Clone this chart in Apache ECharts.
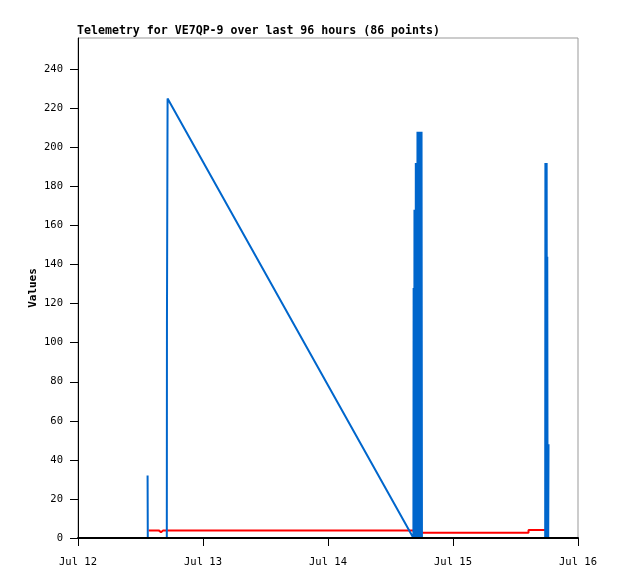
<!DOCTYPE html>
<html>
<head>
<meta charset="utf-8">
<script src="https://cdn.jsdelivr.net/npm/echarts@6/dist/echarts.min.js"></script>
<style>html,body{margin:0;padding:0;background:#fff}#c{width:618px;height:579px}</style>
</head>
<body>
<div id="c"></div>
<script>
// Hours since Jul 12 00:00
const xTickLabels = ['Jul 12', 'Jul 13', 'Jul 14', 'Jul 15', 'Jul 16'];
const yTicks = [0, 20, 40, 60, 80, 100, 120, 140, 160, 180, 200, 220, 240];

const blueHours = [13.36, 13.40, 17.05, 17.08, 17.20,
  64.40, 64.44, 64.48, 64.52, 64.56, 64.60, 64.64, 64.68, 64.72, 64.76, 64.80,
  64.86, 64.90, 64.95, 65.00, 65.05, 65.10, 65.18, 65.25, 65.32, 65.40, 65.48,
  65.56, 65.64, 65.72, 65.80, 65.88, 65.96, 66.04,
  89.70, 89.74, 89.80, 89.86, 89.92, 89.98, 90.04, 90.10, 90.16, 90.22, 90.28, 90.34];
const blueValues = [32, 0, 0, 112, 225,
  0, 128, 0, 128, 0, 168, 0, 168, 0, 168, 0,
  192, 0, 192, 0, 192, 0, 208, 0, 208, 0, 208,
  0, 208, 0, 208, 0, 208, 0,
  0, 192, 0, 192, 0, 192, 0, 144, 0, 48, 0, 48];

const redHours = [13.55, 15.50, 15.94, 16.35, 65.60, 65.60, 86.50, 86.50, 90.43];
const redValues = [3.9, 3.9, 2.9, 3.9, 3.9, 2.7, 2.7, 4.1, 4.1];

const zip = (a, b) => a.map((v, i) => [v, b[i]]);
const mono = '"DejaVu Sans Mono", "Liberation Mono", monospace';

const chart = echarts.init(document.getElementById('c'), null, {renderer: 'canvas'});
chart.setOption({
  animation: false,
  backgroundColor: '#fff',
  title: {
    text: 'Telemetry for VE7QP-9 over last 96 hours (86 points)',
    left: 77, top: 25, padding: 0,
    textStyle: {fontFamily: mono, fontWeight: 'bold', fontSize: 11.6, color: '#000'}
  },
  grid: {left: 78, top: 38, right: 40, bottom: 41, show: true, borderColor: '#999', borderWidth: 1, backgroundColor: 'transparent'},
  xAxis: {
    type: 'value', min: 0, max: 96, interval: 24, z: 10,
    axisLine: {show: true, lineStyle: {color: '#000', width: 2}},
    axisTick: {show: true, length: 8, lineStyle: {color: '#000'}},
    splitLine: {show: false},
    axisLabel: {
      margin: 19, color: '#000', fontFamily: mono, fontSize: 10.5,
      formatter: v => xTickLabels[Math.round(v / 24)]
    }
  },
  yAxis: {
    type: 'value', min: 0, max: 256, interval: 20, z: 10,
    name: 'Values', nameLocation: 'middle', nameGap: 39, nameRotate: 90, nameMoveOverlap: false,
    nameTextStyle: {fontFamily: mono, fontWeight: 'bold', fontSize: 11, color: '#000'},
    axisLine: {show: true, lineStyle: {color: '#000', width: 1}},
    axisTick: {show: true, length: 8, customValues: yTicks, lineStyle: {color: '#000'}},
    splitLine: {show: false},
    axisLabel: {margin: 15, color: '#000', fontFamily: mono, fontSize: 10.5, customValues: yTicks}
  },
  series: [
    {type: 'line', data: zip(redHours, redValues), showSymbol: false, symbol: 'none',
     lineStyle: {color: '#ff0000', width: 2}, z: 2},
    {type: 'line', data: zip(blueHours, blueValues), showSymbol: false, symbol: 'none',
     lineStyle: {color: '#0066cc', width: 2}, z: 3}
  ]
});
</script>
</body>
</html>
